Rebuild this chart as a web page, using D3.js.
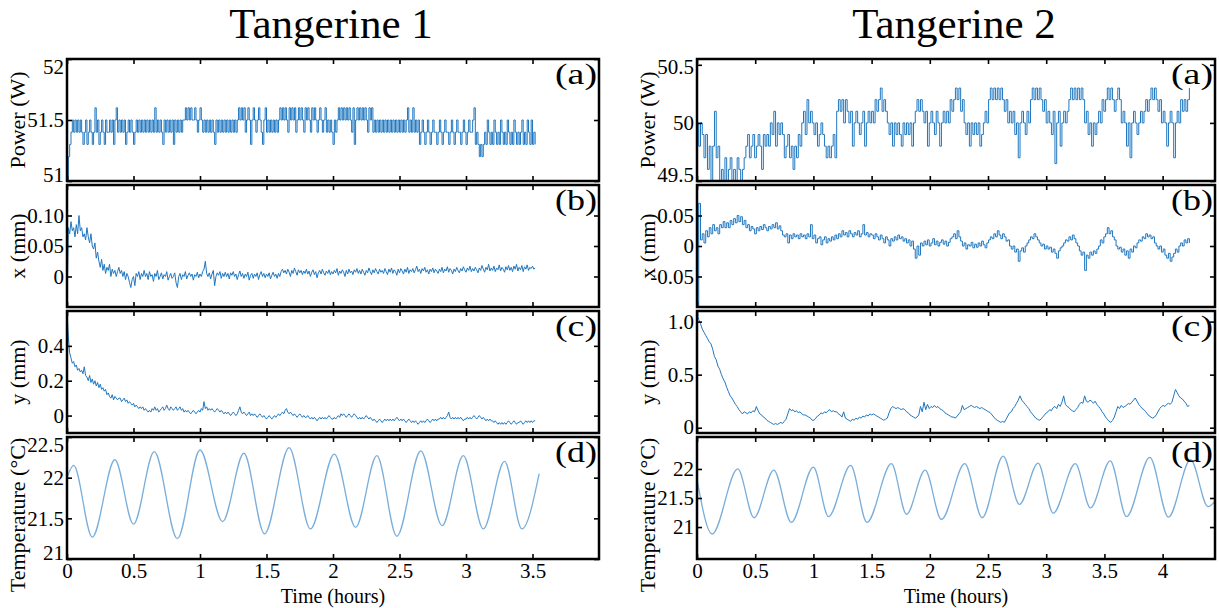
<!DOCTYPE html>
<html><head><meta charset="utf-8">
<script src="https://cdn.jsdelivr.net/npm/d3@7/dist/d3.min.js"></script>
<style>
body{margin:0;background:#fff}
svg{display:block}
text{font-family:"Liberation Serif","Times New Roman",serif;fill:#000}
</style>
</head><body>
<svg id="c" width="1219" height="608"></svg>
<script>
// ---------------- data ----------------
const titles = ["Tangerine 1", "Tangerine 2"];
const timeTicks1 = [0, 0.5, 1, 1.5, 2, 2.5, 3, 3.5];
const timeTicks2 = [0, 0.5, 1, 1.5, 2, 2.5, 3, 3.5, 4];
const timeTickLabels1 = ["0", "0.5", "1", "1.5", "2", "2.5", "3", "3.5"];
const timeTickLabels2 = ["0", "0.5", "1", "1.5", "2", "2.5", "3", "3.5", "4"];

// sample step (hours) of the sampled series
const dt1 = 0.01;
const dt2 = 0.015;

// Tangerine 1, power (W), every 0.01 h
const t1Power = [
51.0,51.2,51.3,51.4,51.5,51.4,51.5,51.4,51.5,51.4,51.5,51.4,51.3,51.4,51.5,51.3,51.4,51.5,51.4,51.3,
51.4,51.6,51.4,51.5,51.3,51.4,51.5,51.4,51.3,51.5,51.4,51.4,51.5,51.4,51.5,51.3,51.5,51.6,51.4,51.5,
51.4,51.5,51.4,51.5,51.3,51.4,51.5,51.4,51.5,51.4,51.3,51.4,51.5,51.4,51.5,51.4,51.5,51.4,51.5,51.4,
51.5,51.4,51.5,51.4,51.5,51.4,51.6,51.4,51.5,51.4,51.5,51.4,51.3,51.5,51.4,51.5,51.4,51.5,51.4,51.5,
51.3,51.5,51.4,51.5,51.4,51.5,51.4,51.5,51.5,51.6,51.5,51.6,51.5,51.6,51.5,51.5,51.6,51.5,51.4,51.5,
51.6,51.5,51.4,51.5,51.4,51.5,51.4,51.5,51.4,51.5,51.4,51.3,51.5,51.4,51.5,51.4,51.5,51.4,51.5,51.4,
51.5,51.4,51.5,51.4,51.5,51.4,51.5,51.4,51.5,51.6,51.5,51.6,51.5,51.6,51.4,51.5,51.6,51.5,51.3,51.5,
51.6,51.5,51.4,51.5,51.6,51.5,51.4,51.3,51.5,51.6,51.4,51.5,51.4,51.5,51.4,51.5,51.4,51.5,51.4,51.5,
51.6,51.5,51.6,51.5,51.6,51.5,51.4,51.6,51.5,51.6,51.5,51.6,51.4,51.5,51.6,51.5,51.6,51.5,51.4,51.6,
51.5,51.6,51.5,51.4,51.6,51.5,51.6,51.5,51.4,51.5,51.6,51.5,51.4,51.5,51.6,51.4,51.5,51.4,51.5,51.4,
51.3,51.5,51.4,51.5,51.6,51.5,51.6,51.5,51.6,51.5,51.6,51.5,51.6,51.5,51.4,51.6,51.3,51.5,51.6,51.5,
51.6,51.5,51.6,51.5,51.6,51.5,51.4,51.6,51.5,51.6,51.4,51.5,51.4,51.5,51.4,51.5,51.4,51.5,51.4,51.5,
51.4,51.5,51.4,51.5,51.4,51.5,51.4,51.5,51.4,51.5,51.4,51.5,51.4,51.5,51.4,51.5,51.6,51.4,51.5,51.4,
51.6,51.4,51.5,51.4,51.5,51.3,51.4,51.5,51.4,51.3,51.4,51.5,51.4,51.3,51.4,51.5,51.4,51.4,51.3,51.4,
51.5,51.4,51.3,51.4,51.5,51.4,51.4,51.3,51.4,51.5,51.4,51.3,51.4,51.5,51.4,51.4,51.3,51.4,51.5,51.4,
51.3,51.4,51.5,51.4,51.4,51.5,51.6,51.3,51.4,51.3,51.2,51.3,51.2,51.3,51.4,51.3,51.5,51.4,51.3,51.4,
51.3,51.5,51.4,51.3,51.4,51.3,51.5,51.4,51.3,51.4,51.3,51.5,51.4,51.3,51.4,51.3,51.5,51.4,51.3,51.4,
51.3,51.4,51.5,51.3,51.4,51.3,51.5,51.4,51.3,51.5,51.3,51.4,51.3
];

// Tangerine 1, x position (mm), every 0.01 h
const t1X = [
-0.05,0.08,0.07,0.09,0.075,0.08,0.065,0.085,0.07,0.1,0.075,0.08,0.065,0.07,0.06,0.08,0.065,0.055,0.07,0.05,
0.045,0.055,0.03,0.04,0.025,0.015,0.028,0.01,0.02,0.005,0.015,0.01,0.02,0.0,0.012,0.005,0.01,0.0,0.008,0.015,
0.005,0.01,0.0,0.008,-0.005,0.005,0.0,-0.01,-0.018,-0.005,0.0,-0.015,0.005,0.0,0.008,-0.005,0.005,0.0,0.01,0.0,
0.005,-0.005,0.008,0.0,0.003,-0.008,0.005,0.0,0.01,-0.005,0.0,0.006,-0.004,0.003,0.0,0.008,-0.006,0.0,0.005,-0.003,
0.0,0.006,-0.01,-0.018,0.0,0.005,-0.005,0.003,0.0,0.008,-0.004,0.002,0.006,0.0,0.004,-0.006,0.003,0.0,0.007,-0.002,
0.004,0.0,0.008,0.012,0.025,0.005,0.0,0.006,-0.004,0.004,0.01,-0.015,0.0,0.006,0.002,0.008,-0.003,0.005,0.0,0.007,
0.0,0.005,-0.004,0.006,0.002,0.008,0.0,0.004,-0.005,0.003,0.009,0.0,0.005,-0.003,0.004,0.0,0.007,-0.006,0.002,0.005,
-0.003,0.004,0.0,0.006,-0.005,0.003,0.008,0.0,0.005,-0.002,0.004,0.0,0.006,-0.004,0.002,0.007,0.0,0.004,-0.003,0.005,
0.0,0.008,0.012,0.006,0.01,0.004,0.012,0.007,0.0,0.01,0.005,0.014,0.008,0.002,0.011,0.006,0.01,0.003,0.009,0.005,
0.012,0.004,0.009,0.0,0.007,0.011,0.003,0.008,-0.002,0.006,0.01,0.004,0.012,0.006,0.002,0.009,0.005,0.011,0.003,0.008,
0.004,0.01,0.006,0.013,0.002,0.009,0.005,0.011,0.007,0.0,0.01,0.004,0.012,0.006,0.009,0.003,0.011,0.007,0.013,0.005,
0.01,0.004,0.012,0.007,0.002,0.01,0.006,0.014,0.008,0.003,0.011,0.006,0.013,0.008,0.004,0.012,0.007,0.01,0.005,0.013,
0.008,0.003,0.012,0.007,0.014,0.005,0.011,0.008,0.002,0.012,0.006,0.013,0.009,0.004,0.012,0.007,0.015,0.005,0.011,0.008,
0.013,0.006,0.011,0.017,0.008,0.012,0.005,0.013,0.009,0.015,0.007,0.011,0.004,0.012,0.008,0.014,0.006,0.012,0.009,0.005,
0.012,0.008,0.015,0.006,0.012,0.009,0.016,0.007,0.013,0.01,0.004,0.012,0.008,0.015,0.01,0.006,0.013,0.009,0.016,0.011,
0.007,0.014,0.01,0.017,0.008,0.013,0.009,0.015,0.011,0.006,0.014,0.01,0.018,0.012,0.007,0.015,0.011,0.02,0.009,0.014,
0.01,0.017,0.008,0.014,0.011,0.019,0.009,0.015,0.012,0.007,0.016,0.011,0.018,0.01,0.015,0.008,0.017,0.012,0.02,0.009,
0.015,0.011,0.018,0.008,0.016,0.012,0.019,0.01,0.015,0.013,0.017,0.012,0.014
];

// Tangerine 1, y position (mm), every 0.01 h
const t1Y = [
0.6,0.45,0.36,0.33,0.3,0.31,0.28,0.29,0.26,0.27,0.25,0.26,0.24,0.28,0.23,0.22,0.2,0.23,0.19,0.21,
0.18,0.2,0.17,0.19,0.16,0.18,0.15,0.16,0.14,0.15,0.12,0.13,0.11,0.1,0.12,0.09,0.11,0.1,0.09,0.1,
0.1,0.08,0.09,0.1,0.08,0.09,0.07,0.08,0.07,0.06,0.07,0.05,0.06,0.05,0.04,0.05,0.04,0.05,0.03,0.04,
0.03,0.02,0.03,0.02,0.04,0.03,0.05,0.03,0.04,0.02,0.03,0.04,0.05,0.03,0.04,0.06,0.04,0.03,0.05,0.04,
0.03,0.04,0.05,0.03,0.04,0.05,0.03,0.04,0.02,0.03,0.02,0.03,0.02,0.01,0.02,0.03,0.02,0.01,0.02,0.03,
0.02,0.04,0.03,0.08,0.04,0.05,0.03,0.04,0.03,0.04,0.03,0.02,0.03,0.04,0.03,0.02,0.03,0.02,0.01,0.02,
0.01,0.02,0.01,0.0,0.01,0.02,0.01,0.0,0.01,0.03,0.05,0.02,0.01,0.02,0.01,0.0,0.01,0.02,0.0,0.01,
0.0,0.01,0.0,-0.01,0.0,0.01,0.0,-0.01,0.0,-0.01,-0.02,-0.01,0.0,-0.01,-0.02,-0.01,0.0,-0.01,0.0,0.01,
0.0,0.01,0.02,0.01,0.03,0.04,0.02,0.01,0.02,0.01,0.0,0.01,0.0,-0.01,0.0,0.01,0.0,-0.01,0.0,-0.01,
-0.01,0.0,-0.01,-0.02,-0.01,-0.02,-0.01,-0.02,-0.03,-0.02,-0.01,-0.02,-0.01,-0.02,-0.01,-0.02,-0.01,0.0,-0.01,-0.02,
-0.02,-0.01,-0.02,-0.01,0.0,-0.01,0.01,0.0,0.01,0.0,-0.01,0.0,0.01,0.0,-0.01,0.0,0.01,0.0,-0.01,-0.02,
-0.01,-0.02,-0.01,-0.02,-0.01,0.0,-0.01,-0.02,-0.01,-0.02,-0.03,-0.02,-0.03,-0.04,-0.03,-0.02,-0.03,-0.04,-0.03,-0.02,
-0.03,-0.02,-0.03,-0.02,-0.03,-0.02,-0.03,-0.02,-0.01,-0.02,-0.03,-0.02,-0.03,-0.02,-0.03,-0.04,-0.03,-0.02,-0.03,-0.04,
-0.03,-0.04,-0.03,-0.04,-0.05,-0.04,-0.03,-0.04,-0.03,-0.04,-0.03,-0.02,-0.03,-0.04,-0.03,-0.02,-0.03,-0.02,-0.03,-0.02,
-0.02,-0.01,-0.02,-0.01,-0.02,-0.01,0.0,0.02,-0.01,-0.02,-0.01,-0.02,-0.01,-0.02,-0.01,-0.02,-0.01,-0.02,-0.03,-0.02,
-0.02,-0.01,-0.02,-0.01,-0.02,-0.01,0.0,-0.01,-0.02,-0.01,0.0,-0.01,-0.02,-0.01,-0.02,-0.03,-0.02,-0.03,-0.02,-0.03,
-0.03,-0.04,-0.03,-0.04,-0.05,-0.04,-0.05,-0.04,-0.05,-0.04,-0.05,-0.04,-0.03,-0.04,-0.05,-0.04,-0.03,-0.04,-0.05,-0.04,
-0.04,-0.03,-0.04,-0.05,-0.04,-0.03,-0.04,-0.03,-0.04,-0.03,-0.04,-0.03,-0.03
];

// Tangerine 1, temperature (deg C) at turning points
const t1TempTime = [0,0.05,0.19,0.36,0.5,0.656,0.83,1.0,1.17,1.33,1.485,1.67,1.83,2.01,2.17,2.33,2.48,2.66,2.82,2.98,3.13,3.29,3.42,3.55];
const t1Temp     = [22.0,22.15,21.27,22.22,21.43,22.32,21.25,22.34,21.46,22.30,21.31,22.37,21.37,22.29,21.39,22.27,21.28,22.33,21.41,22.27,21.37,22.20,21.37,22.05];

// Tangerine 2, power (W), every 0.015 h
const t2Power = [
50.0,49.8,50.0,49.9,49.7,49.9,49.6,49.8,49.5,49.8,50.1,49.7,49.8,49.5,49.6,49.4,49.7,49.5,49.6,49.7,
49.5,49.6,49.4,49.7,49.6,49.5,49.6,49.7,49.8,49.9,49.7,49.8,49.9,49.7,49.8,49.9,49.8,49.6,49.9,49.8,
49.9,49.8,50.0,49.9,50.1,49.8,50.0,49.9,50.0,49.9,49.7,49.8,49.9,49.7,49.8,49.6,49.8,49.7,49.9,49.8,
50.0,50.1,49.9,50.2,50.0,50.1,50.0,49.9,50.0,49.8,49.9,50.0,49.9,49.8,49.7,49.8,49.7,49.8,49.9,49.7,
50.1,50.2,50.1,50.2,50.0,50.2,50.1,50.0,50.1,49.8,50.0,50.1,50.0,49.9,50.0,50.1,49.8,50.0,50.1,50.0,
50.1,50.0,50.2,50.1,50.2,50.3,50.1,50.2,50.1,50.0,49.9,50.0,49.8,50.0,49.9,50.0,49.9,49.8,50.0,49.9,
50.0,49.9,50.0,49.8,50.0,50.1,50.2,50.1,50.2,50.1,50.0,50.1,49.8,50.0,50.1,50.0,49.9,50.1,50.0,49.8,
50.0,50.1,50.0,50.1,50.0,50.2,50.1,50.2,50.3,50.2,50.3,50.1,50.2,50.0,49.9,50.0,49.8,50.0,49.9,50.0,
49.9,50.0,49.8,49.9,50.0,50.1,50.0,50.2,50.3,50.2,50.3,50.2,50.3,50.2,50.3,50.2,50.1,50.2,50.0,50.1,
50.0,50.1,49.9,50.0,49.7,50.0,50.1,50.0,49.9,50.1,50.0,50.2,50.3,50.2,50.3,50.2,50.3,50.2,50.1,50.2,
50.0,50.1,50.0,49.9,50.1,49.65,50.0,50.1,49.8,50.0,50.1,50.0,50.1,50.2,50.3,50.2,50.3,50.2,50.3,50.2,
50.3,50.2,50.0,50.1,49.9,50.0,49.8,50.0,49.9,50.0,50.1,50.0,50.2,50.1,50.2,50.3,50.2,50.3,50.2,50.1,
50.2,50.3,50.2,50.0,50.1,50.0,49.8,50.0,49.7,50.0,50.1,50.0,49.9,50.0,50.1,50.0,50.1,50.2,50.1,50.2,
50.3,50.2,50.3,50.2,50.1,50.2,50.0,50.1,50.0,49.8,50.0,50.1,50.0,49.7,50.0,50.1,50.0,50.2,50.1,50.2,
50.1,50.2,50.3
];

// Tangerine 2, x position (mm), every 0.015 h
const t2X = [
-0.1,0.07,0.01,0.02,0.005,0.025,0.015,0.03,0.02,0.035,0.025,0.03,0.02,0.035,0.03,0.04,0.03,0.038,0.03,0.042,
0.035,0.045,0.038,0.05,0.04,0.048,0.035,0.042,0.03,0.035,0.025,0.032,0.028,0.02,0.03,0.025,0.032,0.027,0.035,0.03,
0.025,0.032,0.028,0.035,0.03,0.038,0.028,0.033,0.025,0.018,0.015,0.02,0.005,0.018,0.012,0.02,0.015,0.018,0.012,0.02,
0.015,0.018,0.012,0.02,0.015,0.035,0.012,0.018,0.005,0.012,0.015,0.002,0.01,0.015,0.005,0.012,0.008,0.015,0.01,0.018,
0.012,0.02,0.015,0.025,0.018,0.022,0.015,0.025,0.02,0.015,0.022,0.018,0.025,0.015,0.02,0.035,0.018,0.022,0.015,0.02,
0.018,0.012,0.02,0.015,0.01,0.018,0.012,0.005,0.015,0.01,0.0,0.012,0.008,0.015,0.01,0.018,0.012,0.015,0.008,0.012,
0.005,0.01,0.0,0.008,-0.005,-0.02,0.0,-0.015,0.005,0.0,0.008,0.002,0.01,0.0,0.005,0.012,0.002,0.008,0.0,0.006,
0.01,0.003,0.008,0.0,0.006,0.012,0.015,0.02,0.012,0.025,0.015,0.008,0.0,0.005,-0.005,0.002,0.0,0.006,-0.003,0.003,
-0.002,0.005,0.0,0.008,0.002,-0.003,0.005,0.01,0.015,0.012,0.02,0.015,0.025,0.018,0.012,0.02,0.015,0.008,0.01,0.0,
-0.005,0.0,-0.01,-0.005,-0.025,-0.008,-0.003,-0.01,0.0,0.005,0.01,0.015,0.012,0.02,0.015,0.01,0.005,0.0,0.003,-0.005,
0.0,-0.005,-0.002,-0.01,-0.005,-0.012,-0.02,-0.008,-0.003,0.0,0.005,0.01,0.008,0.015,0.01,0.018,0.012,0.005,0.0,-0.008,
-0.015,-0.01,-0.04,-0.015,-0.02,-0.01,-0.015,-0.008,-0.012,-0.005,0.0,0.01,0.005,0.015,0.02,0.03,0.02,0.025,0.015,0.01,
0.0,-0.005,-0.002,-0.01,-0.005,-0.015,-0.008,-0.02,-0.005,-0.01,0.0,-0.003,0.005,0.01,0.008,0.015,0.012,0.02,0.015,0.018,
0.012,0.015,0.005,0.0,-0.005,0.0,-0.01,-0.005,-0.015,-0.02,-0.012,-0.025,-0.018,-0.012,-0.005,-0.01,0.0,0.005,0.0,0.01,
0.005,0.012,0.005
];

// Tangerine 2, y position (mm), every 0.015 h
const t2Y = [
1.08,1.02,0.98,0.93,0.9,0.87,0.84,0.81,0.79,0.74,0.67,0.64,0.58,0.55,0.5,0.46,0.43,0.38,0.34,0.3,
0.28,0.25,0.22,0.2,0.17,0.15,0.13,0.15,0.14,0.13,0.15,0.14,0.16,0.15,0.2,0.16,0.13,0.12,0.1,0.09,
0.07,0.06,0.05,0.04,0.03,0.04,0.03,0.04,0.05,0.04,0.06,0.08,0.13,0.18,0.16,0.17,0.15,0.16,0.14,0.15,
0.13,0.12,0.12,0.11,0.1,0.09,0.07,0.07,0.09,0.11,0.12,0.14,0.13,0.15,0.14,0.16,0.17,0.15,0.16,0.15,
0.15,0.13,0.12,0.1,0.15,0.09,0.08,0.07,0.06,0.08,0.07,0.09,0.08,0.1,0.09,0.11,0.1,0.12,0.11,0.13,
0.12,0.13,0.12,0.11,0.1,0.09,0.08,0.07,0.08,0.09,0.14,0.18,0.2,0.19,0.18,0.19,0.18,0.17,0.18,0.17,
0.15,0.14,0.12,0.11,0.1,0.09,0.1,0.12,0.2,0.15,0.24,0.17,0.22,0.18,0.2,0.19,0.21,0.19,0.2,0.18,
0.17,0.16,0.14,0.13,0.12,0.11,0.1,0.1,0.09,0.11,0.13,0.15,0.21,0.17,0.18,0.19,0.2,0.21,0.2,0.19,
0.2,0.19,0.18,0.19,0.18,0.17,0.16,0.15,0.14,0.12,0.1,0.08,0.07,0.06,0.05,0.06,0.05,0.08,0.11,0.14,
0.15,0.18,0.2,0.23,0.26,0.3,0.26,0.24,0.22,0.2,0.18,0.15,0.13,0.11,0.09,0.08,0.07,0.08,0.1,0.12,
0.14,0.15,0.17,0.16,0.19,0.2,0.18,0.22,0.2,0.24,0.3,0.22,0.2,0.19,0.17,0.16,0.15,0.17,0.19,0.22,
0.24,0.23,0.3,0.25,0.24,0.26,0.25,0.23,0.25,0.22,0.2,0.18,0.15,0.13,0.1,0.08,0.06,0.05,0.07,0.1,
0.15,0.2,0.18,0.21,0.19,0.2,0.21,0.23,0.22,0.24,0.26,0.28,0.25,0.22,0.2,0.18,0.17,0.15,0.13,0.11,
0.1,0.09,0.1,0.12,0.15,0.18,0.2,0.21,0.2,0.22,0.23,0.22,0.24,0.3,0.36,0.33,0.3,0.28,0.27,0.25,
0.23,0.2,0.21
];

// Tangerine 2, temperature (deg C) at turning points
const t2TempTime = [0,0.13,0.35,0.49,0.66,0.81,1.0,1.13,1.32,1.46,1.67,1.8,1.96,2.1,2.3,2.45,2.63,2.77,2.93,3.06,3.25,3.38,3.55,3.69,3.89,4.05,4.24,4.39,4.47];
const t2Temp     = [21.82,20.88,22.0,21.16,21.98,21.08,22.03,21.18,22.06,21.08,22.09,21.22,21.98,21.13,22.09,21.16,22.22,21.39,22.1,21.24,22.09,21.33,22.14,21.18,22.2,21.17,22.16,21.35,21.5];

// axis ticks
const powerTicks1 = [51, 51.5, 52],          powerLabels1 = ["51", "51.5", "52"];
const xTicks1 = [0, 0.05, 0.10],             xLabels1 = ["0", "0.05", "0.10"];
const yTicks1 = [0, 0.2, 0.4],               yLabels1 = ["0", "0.2", "0.4"];
const tempTicks1 = [21, 21.5, 22, 22.5],     tempLabels1 = ["21", "21.5", "22", "22.5"];
const powerTicks2 = [49.5, 50, 50.5],        powerLabels2 = ["49.5", "50", "50.5"];
const xTicks2 = [-0.05, 0, 0.05],            xLabels2 = ["-0.05", "0", "0.05"];
const yTicks2 = [0, 0.5, 1.0],               yLabels2 = ["0", "0.5", "1.0"];
const tempTicks2 = [21, 21.5, 22],           tempLabels2 = ["21", "21.5", "22"];

// ---------------- drawing ----------------
const svg = d3.select("#c");
const COL_DARK = "#1f77c0";
const COL_LIGHT = "#79aedb";
const SERIF = '"Liberation Serif","Times New Roman",serif';

function sampled(vals, dt) { return vals.map((v, i) => [i * dt, v]); }
function paired(ts, vs) { return ts.map((t, i) => [t, vs[i]]); }

const panelTops = [59, 185, 311, 437];
const panelH = 122;

const columns = [
  { title: titles[0], x0: 67, x1: 599, xMax: 4, ticks: timeTicks1, tickLabels: timeTickLabels1, labelX: 17,
    panels: [
      { data: sampled(t1Power, dt1), domain: [51, 52], ticks: powerTicks1, labels: powerLabels1, ylabel: "Power (W)", letter: "(a)", color: COL_DARK, w: 1, curve: d3.curveStepAfter },
      { data: sampled(t1X, dt1), domain: [-0.05, 0.15], ticks: xTicks1, labels: xLabels1, ylabel: "x (mm)", letter: "(b)", color: COL_DARK, w: 1 },
      { data: sampled(t1Y, dt1), domain: [-0.1, 0.6], ticks: yTicks1, labels: yLabels1, ylabel: "y (mm)", letter: "(c)", color: COL_DARK, w: 1 },
      { data: paired(t1TempTime, t1Temp), domain: [21, 22.5], ticks: tempTicks1, labels: tempLabels1, ylabel: "Temperature (°C)", letter: "(d)", color: COL_LIGHT, w: 1.3, curve: d3.curveMonotoneX }
    ] },
  { title: titles[1], x0: 697, x1: 1215, xMax: 4.45, ticks: timeTicks2, tickLabels: timeTickLabels2, labelX: 647,
    panels: [
      { data: sampled(t2Power, dt2), domain: [49.5, 50.55], ticks: powerTicks2, labels: powerLabels2, ylabel: "Power (W)", letter: "(a)", color: COL_DARK, w: 1, curve: d3.curveStepAfter },
      { data: sampled(t2X, dt2), domain: [-0.1, 0.1], ticks: xTicks2, labels: xLabels2, ylabel: "x (mm)", letter: "(b)", color: COL_DARK, w: 1, curve: d3.curveStepAfter },
      { data: sampled(t2Y, dt2), domain: [-0.05, 1.1], ticks: yTicks2, labels: yLabels2, ylabel: "y (mm)", letter: "(c)", color: COL_DARK, w: 1 },
      { data: paired(t2TempTime, t2Temp), domain: [20.45, 22.55], ticks: tempTicks2, labels: tempLabels2, ylabel: "Temperature (°C)", letter: "(d)", color: COL_LIGHT, w: 1.3, curve: d3.curveMonotoneX }
    ] }
];

let clipId = 0;
columns.forEach(col => {
  const x = d3.scaleLinear().domain([0, col.xMax]).range([col.x0, col.x1]);
  const cx = (col.x0 + col.x1) / 2;

  svg.append("text").attr("x", cx - 2).attr("y", 38).attr("text-anchor", "middle")
    .style("font-size", "43px").text(col.title);

  col.panels.forEach((p, k) => {
    const top = panelTops[k], bot = top + panelH;
    const y = d3.scaleLinear().domain(p.domain).range([bot, top]);
    const g = svg.append("g");
    const id = "clip" + (clipId++);
    g.append("clipPath").attr("id", id).append("rect")
      .attr("x", col.x0).attr("y", top).attr("width", col.x1 - col.x0).attr("height", panelH);

    const line = d3.line().x(d => x(d[0])).y(d => y(d[1]));
    if (p.curve) line.curve(p.curve);
    g.append("path").datum(p.data).attr("clip-path", `url(#${id})`)
      .attr("fill", "none").attr("stroke", p.color).attr("stroke-width", p.w)
      .attr("stroke-linejoin", "round").attr("d", line);

    // axes: ticks inward on all four sides
    const left = g.append("g").attr("transform", `translate(${col.x0},0)`)
      .call(d3.axisLeft(y).tickValues(p.ticks).tickFormat((d, i) => p.labels[i]).tickSizeInner(-5).tickSizeOuter(0).tickPadding(3));
    // keep the extreme labels inside the panel's height, as in the original figure
    left.selectAll(".tick text").attr("y", d => {
      const ty = y(d);
      return Math.min(Math.max(ty, top + 8), bot - 6) - ty;
    });
    const right = g.append("g").attr("transform", `translate(${col.x1},0)`)
      .call(d3.axisRight(y).tickValues(p.ticks).tickFormat("").tickSizeInner(-5).tickSizeOuter(0));
    const topAx = g.append("g").attr("transform", `translate(0,${top})`)
      .call(d3.axisTop(x).tickValues(col.ticks).tickFormat("").tickSizeInner(-5).tickSizeOuter(0));
    const botAx = g.append("g").attr("transform", `translate(0,${bot})`)
      .call(d3.axisBottom(x).tickValues(col.ticks).tickFormat(k === 3 ? ((d, i) => col.tickLabels[i]) : "").tickSizeInner(-5).tickSizeOuter(0).tickPadding(4));
    [left, right, topAx, botAx].forEach(a => {
      a.select(".domain").remove();
      a.selectAll("line").attr("stroke", "#000").attr("stroke-width", 1.6);
      a.selectAll("text").style("font-family", SERIF).style("font-size", "21px").attr("fill", "#000");
    });

    g.append("rect").attr("x", col.x0).attr("y", top).attr("width", col.x1 - col.x0).attr("height", panelH)
      .attr("fill", "none").attr("stroke", "#000").attr("stroke-width", 2.5);

    g.append("text").attr("x", col.x1 - 2).attr("y", top + 25).attr("text-anchor", "end")
      .attr("textLength", 42).attr("lengthAdjust", "spacingAndGlyphs")
      .style("font-size", "29px").text(p.letter);

    g.append("text").attr("transform", `translate(${col.labelX},${(top + bot) / 2 + (k === 3 ? 17 : 0)}) rotate(-90)`)
      .attr("text-anchor", "middle").attr("dy", "0.35em").style("font-size", "22px").text(p.ylabel);
  });

  svg.append("text").attr("x", cx).attr("y", 603).attr("text-anchor", "middle")
    .style("font-size", "20px").text("Time (hours)");
});
</script>
</body></html>
